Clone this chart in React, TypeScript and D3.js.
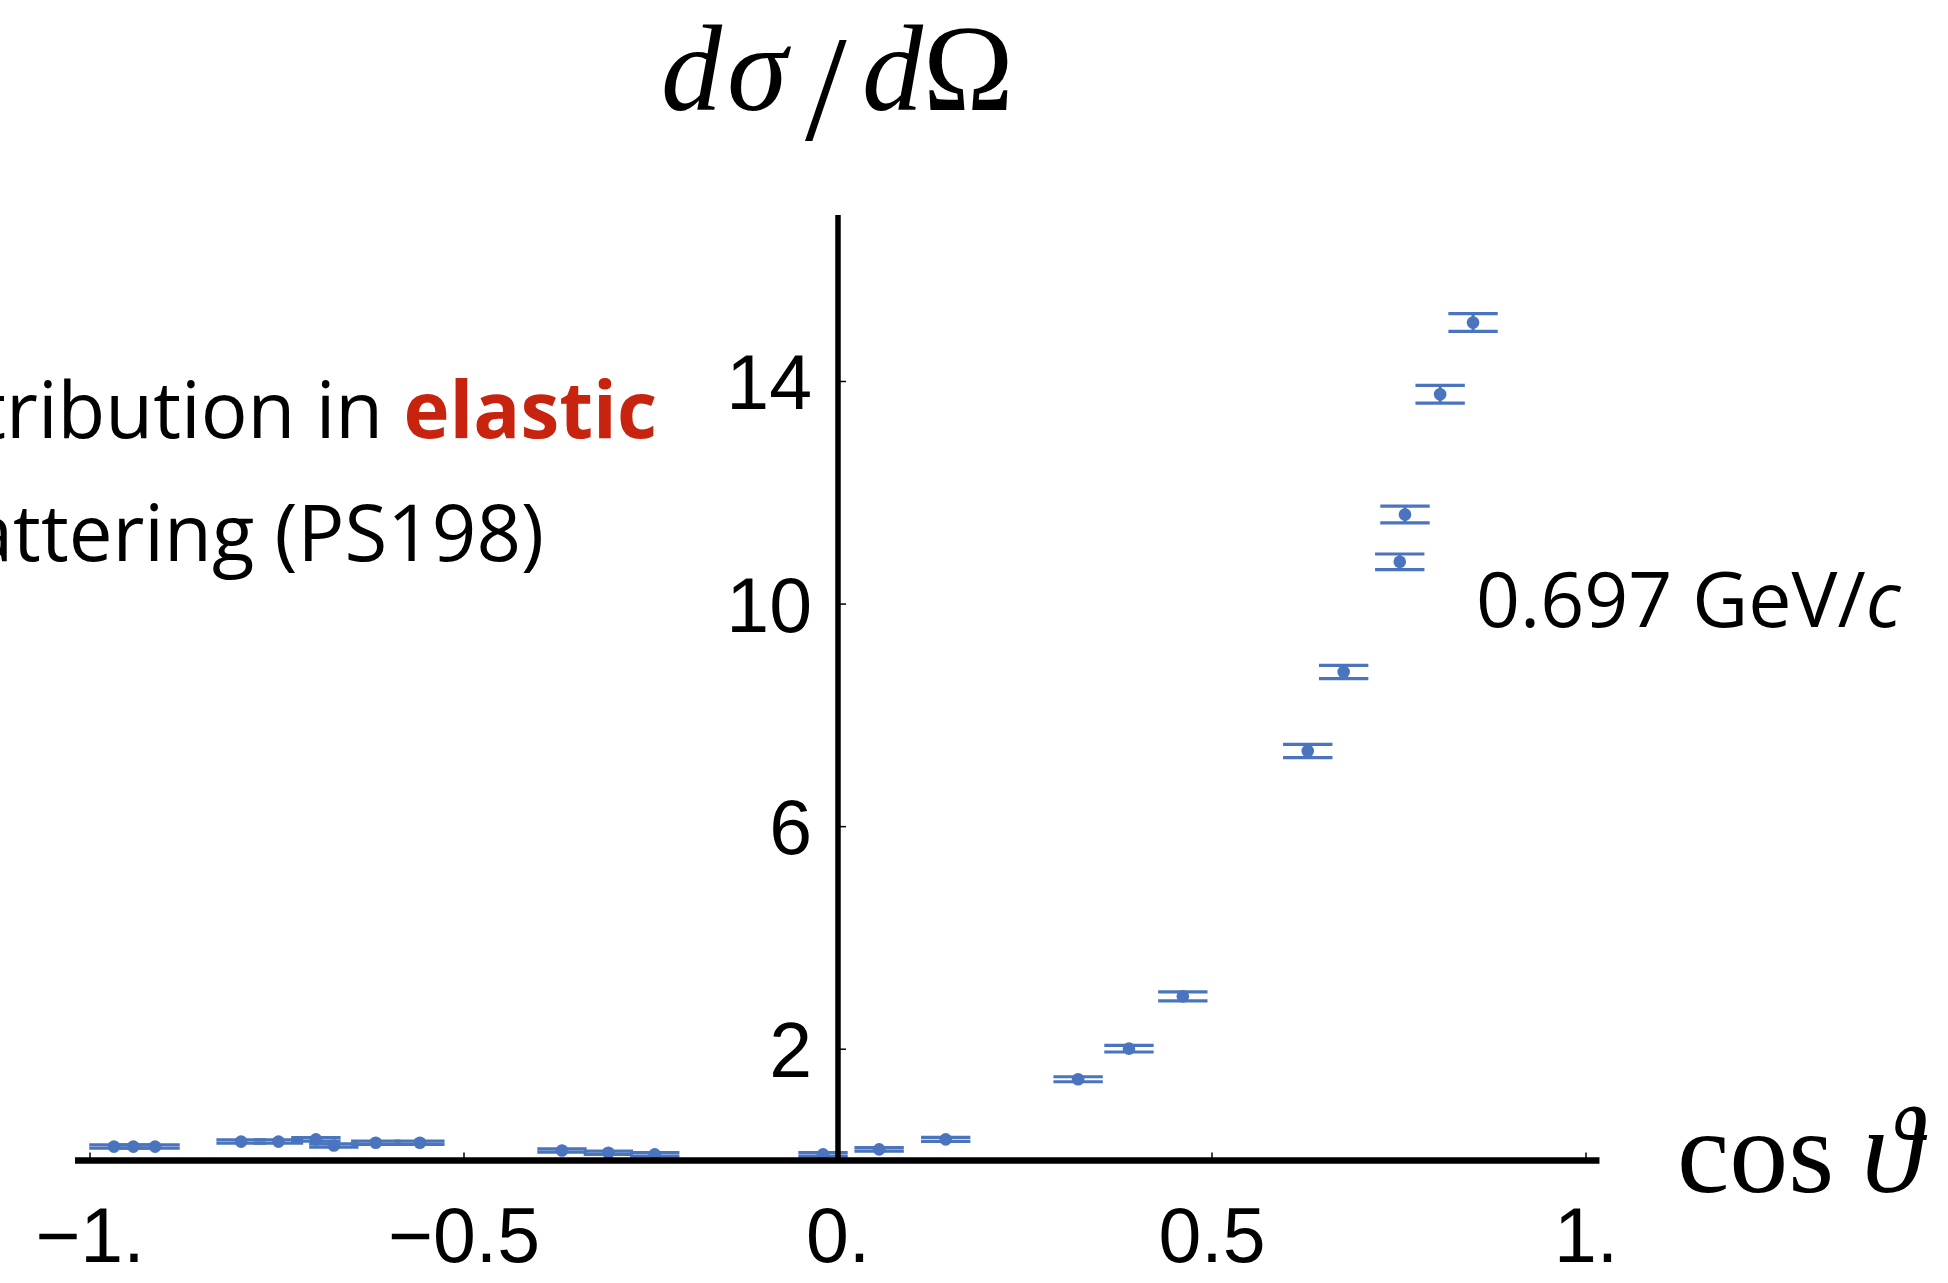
import React from "react";
import * as d3 from "d3";

const COS_THETA = [-0.968, -0.942, -0.913, -0.798, -0.748, -0.698, -0.674, -0.618, -0.559, -0.369, -0.307, -0.245, -0.02, 0.055, 0.144, 0.321, 0.389, 0.461, 0.628, 0.676, 0.751, 0.758, 0.805, 0.849];
const DSIGMA = [0.25, 0.25, 0.25, 0.34, 0.34, 0.38, 0.27, 0.32, 0.32, 0.18, 0.14, 0.11, 0.11, 0.2, 0.38, 1.46, 2.01, 2.95, 7.36, 8.78, 10.76, 11.61, 13.77, 15.06];
const DSIGMA_ERR = [0.03, 0.03, 0.03, 0.03, 0.03, 0.03, 0.03, 0.03, 0.03, 0.03, 0.03, 0.03, 0.03, 0.03, 0.035, 0.045, 0.06, 0.08, 0.12, 0.12, 0.14, 0.15, 0.16, 0.16];
const X_TICKS = [-1, -0.5, 0, 0.5, 1];
const X_TICK_LABELS = ["\u22121.", "\u22120.5", "0.", "0.5", "1."];
const Y_TICKS = [2, 6, 10, 14];
const Y_TICK_LABELS = ["2", "6", "10", "14"];
const MOMENTUM_LABEL = "0.697 GeV/";
const TITLE_LINE1 = "tribution in ";
const TITLE_EMPH = "elastic";
const TITLE_LINE2 = "attering (PS198)";

const W = 1948;
const H = 1283;
const BLUE = "#4a74bd";

export default function App() {
  const x = d3.scaleLinear().domain([-1, 1]).range([90, 1586]);
  const y = d3.scaleLinear().domain([0, 14]).range([1160.5, 381.5]);
  const capHalf = 0.033;
  const pts = COS_THETA.map((c, i) => ({ c, v: DSIGMA[i], e: DSIGMA_ERR[i] }));
  const tickFont = "'Liberation Sans', Arial, Helvetica, sans-serif";
  const serif = "'Liberation Serif', 'Times New Roman', serif";

  return (
    <svg
      width={W}
      height={H}
      viewBox={`0 0 ${W} ${H}`}
      style={{ position: "absolute", left: 0, top: 0, display: "block", background: "#fff" }}
    >
      <rect x={0} y={0} width={W} height={H} fill="#fff" />

      {/* error bars and points */}
      <g>
        {pts.map((p, i) => {
          const cx = x(p.c);
          const y1 = y(p.v + p.e);
          const y2 = y(p.v - p.e);
          const xl = x(p.c - capHalf);
          const xr = x(p.c + capHalf);
          return (
            <g key={i}>
              <line x1={cx} x2={cx} y1={y1} y2={y2} stroke={BLUE} strokeWidth={3} />
              <line x1={xl} x2={xr} y1={y1} y2={y1} stroke={BLUE} strokeWidth={3.2} />
              <line x1={xl} x2={xr} y1={y2} y2={y2} stroke={BLUE} strokeWidth={3.2} />
              <circle cx={cx} cy={y(p.v)} r={6.3} fill={BLUE} />
            </g>
          );
        })}
      </g>

      {/* axes */}
      <line x1={x(-1.02)} x2={x(1.018)} y1={y(0)} y2={y(0)} stroke="#000" strokeWidth={6.5} />
      <line x1={x(0)} x2={x(0)} y1={y(0)} y2={215} stroke="#000" strokeWidth={5.5} />

      {X_TICKS.map((t, i) => (
        <g key={"xt" + i}>
          <line x1={x(t)} x2={x(t)} y1={y(0)} y2={y(0) - 8} stroke="#000" strokeWidth={1.5} />
          <text
            x={x(t)}
            y={1262}
            textAnchor="middle"
            fontFamily={tickFont}
            fontSize={77}
            fill="#000"
          >
            {X_TICK_LABELS[i]}
          </text>
        </g>
      ))}

      {Y_TICKS.map((t, i) => (
        <g key={"yt" + i}>
          <line x1={x(0)} x2={x(0) + 8} y1={y(t)} y2={y(t)} stroke="#000" strokeWidth={1.5} />
          <text
            x={812}
            y={y(t)}
            dy="0.36em"
            textAnchor="end"
            fontFamily={tickFont}
            fontSize={77}
            fill="#000"
          >
            {Y_TICK_LABELS[i]}
          </text>
        </g>
      ))}

      {/* y-axis label */}
      <text y={110} fontFamily={serif} fontSize={122} fill="#000">
        <tspan x={661} fontStyle="italic">d</tspan>
        <tspan fontStyle="italic" dx={5}>σ</tspan>
      </text>
      <text x={805} y={140} fontFamily={serif} fontSize={150} fill="#000">/</text>
      <text y={110} fontFamily={serif} fontSize={122} fill="#000">
        <tspan x={862} fontStyle="italic">d</tspan>
        <tspan dx={0}>Ω</tspan>
      </text>

      {/* x-axis label */}
      <text x={1677} y={1192} fontFamily={serif} fontSize={118} fill="#000">
        cos
      </text>
      <text x={1862} y={1192} fontFamily={serif} fontSize={122} fontStyle="italic" fill="#000">
        ϑ
      </text>

      {/* momentum annotation */}
      <text x={1476} y={627} fontFamily="'Open Sans', sans-serif" fontSize={77} fill="#000">
        {MOMENTUM_LABEL}
        <tspan fontStyle="italic">c</tspan>
      </text>

      {/* title text, cut at the left edge as in the reference */}
      <text x={657} y={438} textAnchor="end" fontFamily="'Open Sans', sans-serif" fontSize={78} fill="#000">
        {TITLE_LINE1}
        <tspan fill="#c8230e" fontWeight="bold">{TITLE_EMPH}</tspan>
      </text>
      <text x={544} y={561} textAnchor="end" fontFamily="'Open Sans', sans-serif" fontSize={78} fill="#000">
        {TITLE_LINE2}
      </text>
    </svg>
  );
}
